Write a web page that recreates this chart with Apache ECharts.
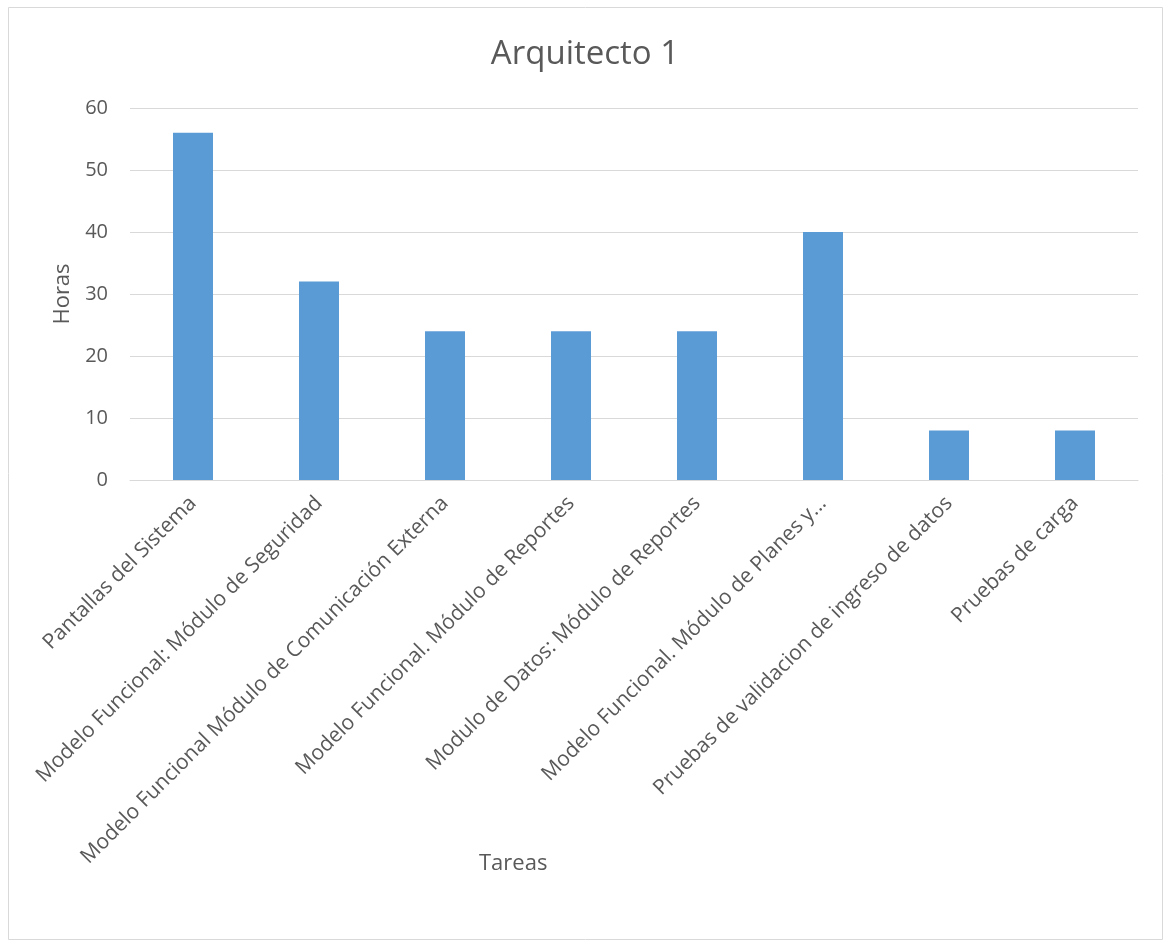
<!DOCTYPE html>
<html>
<head>
<meta charset="utf-8">
<script src="https://cdn.jsdelivr.net/npm/echarts@6/dist/echarts.min.js"></script>
<style>
  html, body { margin: 0; padding: 0; background: #fff; }
  #chart { width: 1170px; height: 949px; }
</style>
</head>
<body>
<div id="chart"></div>
<script>
  // datos del grafico
  var tareas = [
    'Pantallas del Sistema',
    'Modelo Funcional: Módulo de Seguridad',
    'Modelo Funcional Módulo de Comunicación Externa',
    'Modelo Funcional. Módulo de Reportes',
    'Modulo de Datos: Módulo de Reportes',
    'Modelo Funcional. Módulo de Planes y...',
    'Pruebas de validacion de ingreso de datos',
    'Pruebas de carga'
  ]
  var horas = [56, 32, 24, 24, 24, 40, 8, 8]

  var textColor = '#595959'
  var fontName = 'Open Sans'

  var myChart = echarts.init(document.getElementById('chart'))
  var option = {
    backgroundColor: '#fff',
    textStyle: { fontFamily: fontName },
    graphic: [{
      type: 'rect',
      shape: { x: 8.5, y: 7.5, width: 1154, height: 932 },
      style: { fill: 'none', stroke: '#d9d9d9', lineWidth: 1 },
      silent: true
    }],
    title: [
      {
        text: 'Arquitecto 1',
        left: 'center',
        top: 33,
        textStyle: { color: textColor, fontSize: 33, fontWeight: 'normal', fontFamily: fontName }
      },
      {
        text: 'Tareas',
        left: 474,
        top: 848,
        textStyle: { color: textColor, fontSize: 22, fontWeight: 'normal', fontFamily: fontName }
      }
    ],
    grid: {
      left: 130,
      right: 32,
      top: 108,
      bottom: 469
    },
    xAxis: {
      type: 'category',
      data: tareas,
      axisLine: { lineStyle: { color: '#d9d9d9' } },
      axisTick: { show: false },
      axisLabel: {
        rotate: 45,
        interval: 0,
        color: textColor,
        fontSize: 21,
        margin: 20,
        fontFamily: fontName
      }
    },
    yAxis: {
      type: 'value',
      min: 0,
      max: 60,
      interval: 10,
      name: 'Horas',
      nameLocation: 'middle',
      nameGap: 56,
      nameTextStyle: { color: textColor, fontSize: 22, fontFamily: fontName },
      axisLine: { show: false },
      axisTick: { show: false },
      axisLabel: { color: textColor, fontSize: 20, margin: 22, fontFamily: fontName },
      splitLine: { lineStyle: { color: '#d9d9d9' } }
    },
    series: [{
      type: 'bar',
      data: horas,
      barWidth: 40,
      itemStyle: { color: '#5b9bd5' }
    }]
  }
  myChart.setOption(option)
</script>
</body>
</html>
